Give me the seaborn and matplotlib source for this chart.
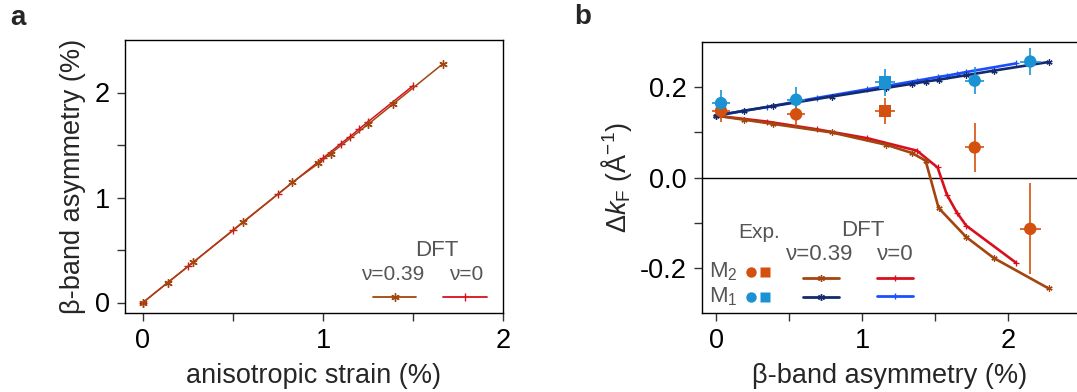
import matplotlib
matplotlib.use("Agg")
import matplotlib.pyplot as plt
from matplotlib.lines import Line2D
import seaborn as sns
import numpy as np

# ---- panel a: beta-band asymmetry vs anisotropic strain ----
strain_nu039 = [0, 0.137, 0.28, 0.554, 0.83, 0.974, 1.043, 1.252, 1.391, 1.668]
asym_nu039 = [0, 0.19, 0.385, 0.765, 1.143, 1.324, 1.419, 1.699, 1.892, 2.276]
strain_nu0 = [0, 0.25, 0.5, 0.75, 1.0, 1.1, 1.15, 1.2, 1.25, 1.5]
asym_nu0 = [0, 0.343, 0.686, 1.032, 1.375, 1.514, 1.58, 1.651, 1.721, 2.064]

# ---- panel b: Delta k_F vs beta-band asymmetry ----
b_x_nu039 = [0, 0.194, 0.388, 0.792, 1.164, 1.34, 1.434, 1.523, 1.712, 1.9, 2.276]
m2_nu039 = [0.136, 0.127, 0.118, 0.099, 0.072, 0.054, 0.037, -0.067, -0.131, -0.177, -0.244]
m1_nu039 = [0.136, 0.147, 0.157, 0.178, 0.197, 0.206, 0.211, 0.215, 0.225, 0.235, 0.254]
b_x_nu0 = [0, 0.347, 0.69, 1.034, 1.375, 1.516, 1.58, 1.648, 1.712, 2.055]
m2_nu0 = [0.136, 0.123, 0.106, 0.0865, 0.059, 0.022, -0.038, -0.077, -0.106, -0.188]
m1_nu0 = [0.136, 0.155, 0.175, 0.194, 0.213, 0.221, 0.224, 0.228, 0.232, 0.251]

# experiment (circles and one square per band)
exp_circ_x = [0.034, 0.548, 1.77, 2.15]
exp_circ_xerr = [0.06, 0.06, 0.066, 0.072]
m2_circ_y = [0.1466, 0.139, 0.066, -0.113]
m2_circ_yerr = [0.025, 0.026, 0.053, 0.1]
m1_circ_y = [0.1635, 0.171, 0.213, 0.255]
m1_circ_yerr = [0.03, 0.029, 0.029, 0.029]
exp_sq_x = [1.158]
exp_sq_xerr = [0.068]
m2_sq_y = [0.1466]
m2_sq_yerr = [0.029]
m1_sq_y = [0.209]
m1_sq_yerr = [0.029]

BROWN = "#a3450f"
RED = "#d8101e"
NAVY = "#142a6e"
BLUE = "#1a4fff"
ORANGE = "#d4500f"
SKY = "#1a92d4"
GREY = "#555555"

sns.set_style("ticks")
plt.rcParams["font.family"] = ["Liberation Sans", "DejaVu Sans"]
plt.rcParams["mathtext.fontset"] = "custom"
plt.rcParams["mathtext.rm"] = "Liberation Sans"
plt.rcParams["mathtext.it"] = "Liberation Sans:italic"
plt.rcParams["axes.unicode_minus"] = False
plt.rcParams["axes.edgecolor"] = "black"
plt.rcParams["axes.linewidth"] = 1.0
plt.rcParams["xtick.color"] = "black"
plt.rcParams["ytick.color"] = "black"

W, H = 1077, 392
fig = plt.figure(figsize=(W / 100, H / 100), dpi=100)


def box(l, t, r, b):
    return [l / W, 1 - b / H, (r - l) / W, (b - t) / H]


ax1 = fig.add_axes(box(125, 40, 503, 313))
ax2 = fig.add_axes(box(702, 42, 1077, 313))

FS = 19.5
star = (6, 2, 0)

# panel a
sns.lineplot(x=strain_nu0, y=asym_nu0, ax=ax1, color=RED, lw=1.1, marker="+",
             markersize=6, markeredgecolor=RED, markeredgewidth=1.0,
             sort=False, estimator=None)
sns.lineplot(x=strain_nu039, y=asym_nu039, ax=ax1, color=BROWN, lw=1.1, marker=star,
             markersize=6, markeredgecolor=BROWN, markeredgewidth=1.0,
             sort=False, estimator=None)
ax1.set_xlim(-0.1, 2.0)
ax1.set_ylim(-0.1, 2.5)
ax1.set_xticks([0, 0.5, 1, 1.5, 2])
ax1.set_xticklabels(["0", "", "1", "", "2"])
ax1.set_yticks([0, 0.5, 1, 1.5, 2])
ax1.set_yticklabels(["0", "", "1", "", "2"])
ax1.set_xlabel("anisotropic strain (%)", fontsize=FS, labelpad=6)
ax1.set_ylabel("β-band asymmetry (%)", fontsize=FS, labelpad=6)

# panel b
ax2.axhline(0, color="black", lw=1.0, zorder=1)
for xs, ys, col, mk in [(b_x_nu0, m2_nu0, RED, "+"), (b_x_nu039, m2_nu039, BROWN, star),
                        (b_x_nu0, m1_nu0, BLUE, "+"), (b_x_nu039, m1_nu039, NAVY, star)]:
    sns.lineplot(x=xs, y=ys, ax=ax2, color=col, lw=1.9, marker=mk,
                 markersize=4.5, markeredgecolor=col, markeredgewidth=0.9,
                 sort=False, estimator=None)

for xs, xe, ys, ye, col, mk in [
    (exp_circ_x, exp_circ_xerr, m2_circ_y, m2_circ_yerr, ORANGE, "o"),
    (exp_sq_x, exp_sq_xerr, m2_sq_y, m2_sq_yerr, ORANGE, "s"),
    (exp_circ_x, exp_circ_xerr, m1_circ_y, m1_circ_yerr, SKY, "o"),
    (exp_sq_x, exp_sq_xerr, m1_sq_y, m1_sq_yerr, SKY, "s"),
]:
    ax2.errorbar(xs, ys, xerr=xe, yerr=ye, fmt="none", ecolor=col, elinewidth=1.2,
                 capsize=0, zorder=4)
    sns.scatterplot(x=xs, y=ys, ax=ax2, color=col, marker=mk, s=80,
                    edgecolor="none", zorder=5)

ax2.set_xlim(-0.096, 2.47)
ax2.set_ylim(-0.298, 0.298)
ax2.set_xticks([0, 0.5, 1, 1.5, 2])
ax2.set_xticklabels(["0", "", "1", "", "2"])
ax2.set_yticks([-0.2, -0.1, 0, 0.1, 0.2])
ax2.set_yticklabels(["-0.2", "", "0.0", "", "0.2"])
ax2.spines["right"].set_visible(False)
ax2.set_xlabel("β-band asymmetry (%)", fontsize=FS, labelpad=6)
ax2.set_ylabel(r"$\Delta k_\mathrm{F}$ (Å$^{-1}$)", fontsize=FS, labelpad=4)

for ax in (ax1, ax2):
    ax.tick_params(axis="both", direction="out", length=6, width=1.0,
                   labelsize=FS, pad=5, color="#333333")
    for s in ax.spines.values():
        s.set_linewidth(1.0)

# panel letters
fig.text(18 / W, 1 - 18 / H, "a", fontsize=20, fontweight="bold", ha="center", va="center")
fig.text(583 / W, 1 - 17 / H, "b", fontsize=20, fontweight="bold", ha="center", va="center")


# hand-made legends (pixel positions)
def ftxt(x, y, s, fs=15, **kw):
    fig.text(x / W, 1 - y / H, s, fontsize=fs, color=GREY, ha="center", va="center", **kw)


def fkey(x0, x1, y, col, mk, lw, ms=6):
    fig.add_artist(Line2D([x0 / W, x1 / W], [1 - y / H, 1 - y / H], color=col, lw=lw))
    fig.add_artist(Line2D([(x0 + x1) / 2 / W], [1 - y / H], color=col, marker=mk,
                          markersize=ms, markeredgecolor=col, markeredgewidth=1.0, lw=0))


ftxt(437, 251, "DFT", fs=16)
ftxt(393, 275, "ν=0.39")
ftxt(466, 275, "ν=0")
fkey(373, 416, 297, BROWN, star, 1.3)
fkey(443, 487, 297, RED, "|", 1.3)

ftxt(759, 233, "Exp.")
ftxt(863, 230, "DFT", fs=16)
ftxt(820, 255, "ν=0.39", fs=16)
ftxt(895, 255, "ν=0", fs=16)
fig.text(709 / W, 1 - 272 / H, r"M$_2$", fontsize=16, color=GREY, ha="left", va="center")
fig.text(709 / W, 1 - 297 / H, r"M$_1$", fontsize=16, color=GREY, ha="left", va="center")
for yy, col in [(272, ORANGE), (297, SKY)]:
    fig.add_artist(Line2D([751 / W], [1 - yy / H], marker="o", color=col, markersize=7.5,
                          markeredgecolor="none", lw=0))
    fig.add_artist(Line2D([765 / W], [1 - yy / H], marker="s", color=col, markersize=7,
                          markeredgecolor="none", lw=0))
fkey(803, 839, 278, BROWN, star, 2.0, ms=5)
fkey(803, 839, 297, NAVY, star, 2.0, ms=5)
fkey(877, 913, 278, RED, "|", 2.0, ms=5)
fkey(877, 913, 296, BLUE, "|", 2.0, ms=5)

fig.savefig("out.png", dpi=100)
